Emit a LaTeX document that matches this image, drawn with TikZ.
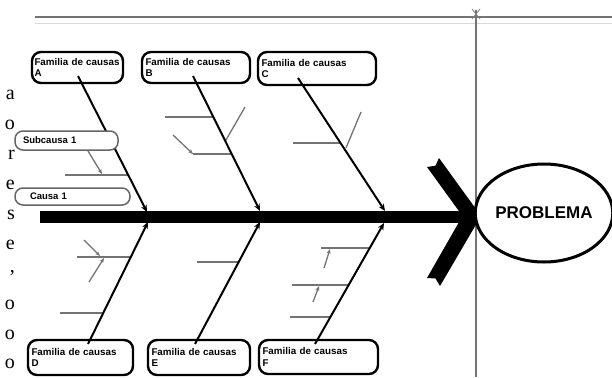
\documentclass[tikz,border=0pt]{standalone}
\usepackage{fontspec}
\setmainfont{Liberation Sans}
\newfontfamily\serifm{Liberation Serif}
\usetikzlibrary{arrows.meta,shapes.geometric}
\begin{document}
\begin{tikzpicture}[x=1pt,y=-1pt,
  famb/.style={draw=black, line width=2.4pt, rounded corners=9pt, fill=white,
    font=\bfseries\fontsize{9.8}{11.5}\selectfont, align=left, inner xsep=2.5pt, inner ysep=0pt},
  causeb/.style={draw=black!60, line width=1.5pt, rounded corners=8pt, fill=white,
    font=\bfseries\fontsize{9.5}{10}\selectfont, align=left, inner ysep=0pt},
  bone/.style={line width=2pt, -{Stealth[length=7pt,width=6pt]}},
  sub/.style={draw=black!55, line width=1.3pt},
  subarr/.style={sub, -{Stealth[length=5pt,width=4pt]}},
  frame/.style={draw=black!55, line width=1.8pt},
  margl/.style={font=\serifm\fontsize{20}{20}\selectfont, anchor=east, inner sep=0pt}]
\useasboundingbox (0,0) rectangle (612,377);
\fill[white] (0,0) rectangle (612,377);

% margin letters of the neighbouring text
\node[margl] (m1) at (15,95) {a};
\node[margl] (m2) at (15,125) {o};
\node[margl] (m3) at (15,155) {r};
\node[margl] (m4) at (15,185) {e};
\node[margl] (m5) at (15,215) {s};
\node[margl] (m6) at (15,245) {e};
\node[margl] (m7) at (15,273) {,};
\node[margl] (m8) at (15,305) {o};
\node[margl] (m9) at (15,335) {o};
\node[margl] (m10) at (15,364) {o};

% frame lines
\coordinate (ftl) at (35,17); \coordinate (ftr) at (612,17);
\coordinate (fgl) at (35,24); \coordinate (fgr) at (612,24);
\coordinate (fvt) at (476,10); \coordinate (fvb) at (476,377);
\draw[frame] (ftl) -- (ftr);
\draw[black!15, line width=1pt] (fgl) -- (fgr);
\draw[frame] (fvt) -- (fvb);
\coordinate (x1) at (472,9); \coordinate (x2) at (480,19);
\coordinate (x3) at (480,9); \coordinate (x4) at (472,19);
\draw[black!50, line width=0.8pt] (x1) -- (x2) (x3) -- (x4);

% family boxes
\node[famb, minimum width=91pt, minimum height=31pt, text width=86pt] (fa) at (77.5,67.5) {Familia de causas\\A};
\node[famb, minimum width=108pt, minimum height=31pt, text width=101pt] (fb) at (196,67.5) {Familia de causas\\B};
\node[famb, minimum width=118pt, minimum height=33pt, text width=111pt] (fc) at (317,68.5) {Familia de causas\\C};
\node[famb, minimum width=105pt, minimum height=35pt, text width=98pt] (fd) at (80.5,357.5) {Familia de causas\\D};
\node[famb, minimum width=102pt, minimum height=35pt, text width=95pt] (fe) at (199,357.5) {Familia de causas\\E};
\node[famb, minimum width=119pt, minimum height=34pt, text width=112pt] (ff) at (318.5,357) {Familia de causas\\F};

% sub-bones
\coordinate (a1l) at (65,175); \coordinate (a1r) at (128,175);
\draw[sub] (a1l) -- (a1r);
\coordinate (b1l) at (165,117); \coordinate (b1r) at (214,117);
\coordinate (b2l) at (193,154); \coordinate (b2r) at (232,154);
\coordinate (b3s) at (173,135);
\coordinate (b4s) at (245,107); \coordinate (b4e) at (226,140);
\draw[sub] (b1l) -- (b1r);
\draw[sub] (b2l) -- (b2r);
\draw[subarr] (b3s) -- (b2l);
\draw[sub] (b4s) -- (b4e);
\coordinate (c1l) at (293,143); \coordinate (c1r) at (341,143);
\coordinate (c2s) at (361,112); \coordinate (c2e) at (346,148);
\draw[sub] (c1l) -- (c1r);
\draw[sub] (c2s) -- (c2e);
\coordinate (d1l) at (77,257); \coordinate (d1r) at (131,257);
\coordinate (d2l) at (60,313); \coordinate (d2r) at (103,313);
\coordinate (d3s) at (84,240); \coordinate (d3e) at (100,256);
\coordinate (d4s) at (89,282); \coordinate (d4e) at (104,258);
\draw[sub] (d1l) -- (d1r);
\draw[sub] (d2l) -- (d2r);
\draw[subarr] (d3s) -- (d3e);
\draw[subarr] (d4s) -- (d4e);
\coordinate (e1l) at (197,262); \coordinate (e1r) at (238,262);
\draw[sub] (e1l) -- (e1r);
\coordinate (f1l) at (321,248); \coordinate (f1r) at (370,248);
\coordinate (f2l) at (292,285); \coordinate (f2r) at (348,285);
\coordinate (f3l) at (290,317); \coordinate (f3r) at (330,317);
\coordinate (f4s) at (324,268); \coordinate (f4e) at (330,249);
\coordinate (f5s) at (313,302); \coordinate (f5e) at (319,286);
\draw[sub] (f1l) -- (f1r);
\draw[sub] (f2l) -- (f2r);
\draw[sub] (f3l) -- (f3r);
\draw[subarr] (f4s) -- (f4e);
\draw[subarr] (f5s) -- (f5e);

% main bones
\coordinate (ba0) at (78,76);   \coordinate (ba1) at (147,212);
\coordinate (bb0) at (193,76);  \coordinate (bb1) at (260,211);
\coordinate (bc0) at (298,78);  \coordinate (bc1) at (385,211);
\coordinate (bd0) at (88,344);  \coordinate (bd1) at (148,222);
\coordinate (be0) at (195,344); \coordinate (be1) at (260,222);
\coordinate (bf0) at (315,344); \coordinate (bf1) at (384,223);
\draw[bone] (ba0) -- (ba1);
\draw[bone] (bb0) -- (bb1);
\draw[bone] (bc0) -- (bc1);
\draw[bone] (bd0) -- (bd1);
\draw[bone] (be0) -- (be1);
\draw[bone] (bf0) -- (bf1);

% spine
\coordinate (sp0) at (40,217); \coordinate (sp1) at (470,217);
\draw[line width=12pt] (sp0) -- (sp1);

% chevron head
\fill (481,216) -- (439,158) -- (435.5,165.7) -- (427,167) -- (462.5,216)
      -- (427,278) -- (435.5,278.5) -- (440,286) -- cycle;

% problem
\node[draw, ellipse, line width=3pt, minimum width=127pt, minimum height=98pt, inner sep=0pt,
      fill=white, font=\bfseries\fontsize{17}{17}\selectfont] (prob) at (544,213) {PROBLEMA};

% cause boxes
\node[causeb, minimum width=103pt, minimum height=19pt, text width=87pt, inner xsep=8pt] (sc1) at (66.5,140.5) {Subcausa 1};
\node[causeb, minimum width=115pt, minimum height=17pt, text width=85pt, inner xsep=15pt] (cs1) at (72.5,196.5) {Causa 1};
\coordinate (scd) at (88,151); \coordinate (sce) at (102,174);
\draw[subarr] (scd) -- (sce);
\end{tikzpicture}
\end{document}
